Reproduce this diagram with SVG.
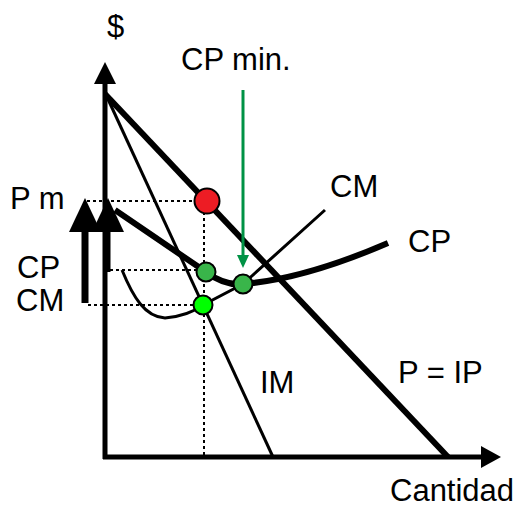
<svg xmlns="http://www.w3.org/2000/svg" width="521" height="508" viewBox="0 0 521 508">
<style>
text{font-family:"Liberation Sans",Arial,sans-serif;font-size:31px;fill:#000}
.dot{stroke:#000;stroke-width:2}
.dash{stroke:#000;stroke-width:2;stroke-dasharray:3,3;fill:none}
</style>
<rect width="521" height="508" fill="#fff"/>
<g id="axes">
<line x1="105" y1="459" x2="105" y2="80" stroke="#000" stroke-width="5"/>
<polygon points="105,62 94,84 116,84" fill="#000"/>
<line x1="103" y1="457" x2="483" y2="457" stroke="#000" stroke-width="5"/>
<polygon points="501,457 481,446 481,468" fill="#000"/>
</g>
<g id="connectors">
<path class="dash" d="M87,201H200M204,212V457M110,270H200M88,305H196"/>
<line x1="107" y1="97" x2="273" y2="457" stroke="#000" stroke-width="3"/>
<line x1="105" y1="94" x2="448" y2="457" stroke="#000" stroke-width="6"/>
<path d="M115,210 L206,272 Q225,286 243,284 C280,281 330,268 388,243" fill="none" stroke="#000" stroke-width="6"/>
<path d="M122,270 C133,297 145,317 165,318 Q188,316 203,305 L243,284 L325,210" fill="none" stroke="#000" stroke-width="3"/>
<line x1="85" y1="303" x2="85" y2="230" stroke="#000" stroke-width="7"/>
<polygon points="85,198 69,232 101,232" fill="#000"/>
<line x1="107" y1="272" x2="107" y2="230" stroke="#000" stroke-width="7"/>
<polygon points="108,198 92,232 124,232" fill="#000"/>
<line x1="243" y1="90" x2="243" y2="256" stroke="#009245" stroke-width="3"/>
<polygon points="243,268 237,255 249,255" fill="#009245"/>
</g>
<g id="red-dot"><circle class="dot" cx="207" cy="201" r="12.5" fill="#ed1c24"/></g>
<g id="cp-dot"><circle class="dot" cx="206" cy="272" r="9.5" fill="#39b54a"/></g>
<g id="cpmin-dot"><circle class="dot" cx="243" cy="284" r="9.5" fill="#39b54a"/></g>
<g id="cm-dot"><circle class="dot" cx="203" cy="305" r="9.5" fill="#00ff00"/></g>
<g id="labels">
<text x="107" y="37">$</text>
<text x="181" y="70">CP min.</text>
<text x="10" y="209">P m</text>
<text x="17" y="278">CP</text>
<text x="16" y="311">CM</text>
<text x="330" y="197">CM</text>
<text x="408" y="252">CP</text>
<text x="260" y="393">IM</text>
<text x="398" y="383">P = IP</text>
<text x="390" y="501">Cantidad</text>
</g>
</svg>
